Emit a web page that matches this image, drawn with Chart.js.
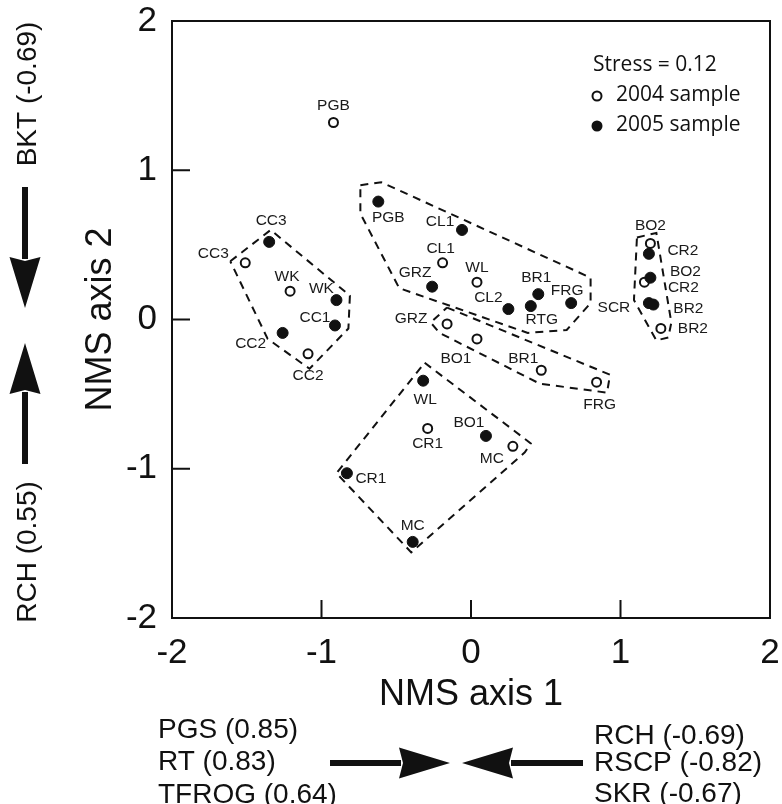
<!DOCTYPE html>
<html>
<head>
<meta charset="utf-8">
<script src="https://cdn.jsdelivr.net/npm/chart.js@4.4.1/dist/chart.umd.min.js"></script>
<style>
  html, body { margin: 0; padding: 0; background: #fff; }
  #wrap { width: 782px; height: 804px; }
</style>
</head>
<body>
<div id="wrap"><canvas id="nms-chart" width="782" height="804"></canvas></div>
<script>
// site scores on NMS axis 1 / axis 2
const sites2005 = ['PGB', 'CC3', 'WK', 'CC1', 'CC2', 'CL1', 'GRZ', 'BR1', 'CL2', 'RTG', 'FRG', 'SCR', 'BO2', 'CR2', 'BR2', 'WL', 'BO1', 'CR1', 'MC'];
const axis1_2005 = [-0.62, -1.35, -0.90, -0.91, -1.26, -0.06, -0.26, 0.45, 0.25, 0.40, 0.67, 1.19, 1.20, 1.19, 1.22, -0.32, 0.10, -0.83, -0.39];
const axis2_2005 = [0.79, 0.52, 0.13, -0.04, -0.09, 0.60, 0.22, 0.17, 0.07, 0.09, 0.11, 0.11, 0.28, 0.44, 0.10, -0.41, -0.78, -1.03, -1.49];

const sites2004 = ['PGB', 'CC3', 'WK', 'CC2', 'CL1', 'WL', 'GRZ', 'BO1', 'BR1', 'FRG', 'CR1', 'MC', 'BO2', 'CR2', 'BR2'];
const axis1_2004 = [-0.92, -1.51, -1.21, -1.09, -0.19, 0.04, -0.16, 0.04, 0.47, 0.84, -0.29, 0.28, 1.20, 1.16, 1.27];
const axis2_2004 = [1.32, 0.38, 0.19, -0.23, 0.38, 0.25, -0.03, -0.13, -0.34, -0.42, -0.73, -0.85, 0.51, 0.25, -0.06];

// dashed group outlines (vertices in axis units)
const hullCCx = [-1.61, -1.34, -0.81, -0.82, -1.08, -1.36];
const hullCCy = [0.39, 0.60, 0.16, -0.06, -0.33, -0.13];
const hullUpperX = [-0.74, -0.60, 0.80, 0.80, 0.64, 0.38, -0.48, -0.74];
const hullUpperY = [0.90, 0.92, 0.28, 0.11, -0.07, -0.09, 0.21, 0.71];
const hullMidX = [-0.16, 0.93, 0.91, 0.46, -0.21, -0.27];
const hullMidY = [0.08, -0.37, -0.49, -0.43, -0.09, -0.02];
const hullRightX = [1.11, 1.24, 1.34, 1.32, 1.24, 1.09];
const hullRightY = [0.55, 0.58, -0.02, -0.12, -0.14, 0.13];
const hullLowX = [-0.31, 0.40, 0.36, -0.40, -0.90];
const hullLowY = [-0.29, -0.83, -0.89, -1.56, -1.03];

const axisTicks = [-2, -1, 0, 1, 2];

// label placement, pixels from the marker (label centre)
const shift2005 = [[10, 16], [2, -21], [-15, -11], [-20, -8], [-32, 11], [-22, -8], [-17, -14], [-2, -16], [-20, -11], [11, 14],
  [-4, -12], [-35, 5], [35, -6], [34, -3], [35, 4], [2, 19], [-17, -13], [24, 5], [0, -16]];
const shift2004 = [[0, -17], [-32, -9], [-3, -14], [0, 22], [-2, -14], [0, -14], [-36, -5], [-21, 20], [-18, -12], [3, 23],
  [0, 15], [-21, 12], [0, -18], [39, 6], [32, 0]];

const FONT = '"Liberation Sans", Arial, Helvetica, sans-serif';

function toPoints(xs, ys) {
  return xs.map((x, i) => ({ x, y: ys[i] }));
}

function ring(xs, ys) {
  const pts = toPoints(xs, ys);
  pts.push(pts[0]);
  return pts;
}

function hullDataset(xs, ys) {
  return {
    data: ring(xs, ys),
    showLine: true,
    borderColor: '#111',
    borderWidth: 2,
    borderDash: [8, 6],
    pointRadius: 0,
    fill: false,
    tension: 0
  };
}

function noScalePadding(s) {
  s.paddingTop = 0;
  s.paddingBottom = 0;
  s.paddingLeft = 0;
  s.paddingRight = 0;
}

function drawArrow(ctx, x1, y1, x2, y2) {
  // tail (x1,y1) -> tip (x2,y2)
  const len = Math.hypot(x2 - x1, y2 - y1);
  const ux = (x2 - x1) / len, uy = (y2 - y1) / len;
  const head = 51, half = 15.5;
  const bx = x2 - ux * head, by = y2 - uy * head;
  ctx.lineWidth = 6;
  ctx.beginPath();
  ctx.moveTo(x1, y1);
  ctx.lineTo(bx + ux * 2, by + uy * 2);
  ctx.stroke();
  ctx.beginPath();
  ctx.moveTo(x2, y2);
  ctx.lineTo(bx - uy * half, by + ux * half);
  ctx.lineTo(bx + ux * 4, by + uy * 4);
  ctx.lineTo(bx + uy * half, by - ux * half);
  ctx.closePath();
  ctx.fill();
}

const frameAndTicks = {
  id: 'frameAndTicks',
  beforeDatasetsDraw(chart) {
    const { ctx, chartArea: a, scales } = chart;
    ctx.save();
    ctx.strokeStyle = '#111';
    ctx.lineWidth = 2;
    ctx.strokeRect(a.left, a.top, a.right - a.left, a.bottom - a.top);
    ctx.beginPath();
    axisTicks.slice(1, -1).forEach(v => {
      const px = scales.x.getPixelForValue(v);
      ctx.moveTo(px, a.bottom);
      ctx.lineTo(px, a.bottom - 18);
      const py = scales.y.getPixelForValue(v);
      ctx.moveTo(a.left, py);
      ctx.lineTo(a.left + 18, py);
    });
    ctx.stroke();
    ctx.restore();
  }
};

const pointLabels = {
  id: 'pointLabels',
  afterDatasetsDraw(chart) {
    const ctx = chart.ctx;
    ctx.save();
    ctx.font = '15.5px ' + FONT;
    ctx.fillStyle = '#1a1a1a';
    ctx.textAlign = 'center';
    ctx.textBaseline = 'middle';
    [[0, sites2005, shift2005], [1, sites2004, shift2004]].forEach(([idx, names, shifts]) => {
      chart.getDatasetMeta(idx).data.forEach((pt, k) => {
        ctx.fillText(names[k], pt.x + shifts[k][0], pt.y + shifts[k][1]);
      });
    });
    ctx.restore();
  }
};

const legendBox = {
  id: 'legendBox',
  afterDraw(chart) {
    const ctx = chart.ctx;
    ctx.save();
    ctx.font = '21px "Open Sans", sans-serif';
    ctx.fillStyle = '#111';
    ctx.textAlign = 'left';
    ctx.textBaseline = 'middle';
    ctx.fillText('Stress = 0.12', 593, 65);
    ctx.fillText('2004 sample', 616, 95);
    ctx.fillText('2005 sample', 616, 125);
    ctx.lineWidth = 2;
    ctx.strokeStyle = '#111';
    ctx.fillStyle = '#fff';
    ctx.beginPath();
    ctx.arc(597, 96, 4.5, 0, Math.PI * 2);
    ctx.fill();
    ctx.stroke();
    ctx.fillStyle = '#111';
    ctx.beginPath();
    ctx.arc(597, 126, 5.5, 0, Math.PI * 2);
    ctx.fill();
    ctx.restore();
  }
};

// correlated variables drawn beside the axes
const loadings = {
  id: 'loadings',
  afterDraw(chart) {
    const ctx = chart.ctx;
    ctx.save();
    ctx.fillStyle = '#111';
    ctx.strokeStyle = '#111';
    ctx.font = '28px ' + FONT;

    // axis 2
    ctx.textAlign = 'center';
    ctx.textBaseline = 'alphabetic';
    ctx.save();
    ctx.translate(36, 94);
    ctx.rotate(-Math.PI / 2);
    ctx.fillText('BKT (-0.69)', 0, 0);
    ctx.restore();
    ctx.save();
    ctx.translate(36, 552);
    ctx.rotate(-Math.PI / 2);
    ctx.fillText('RCH (0.55)', 0, 0);
    ctx.restore();
    drawArrow(ctx, 25, 187, 25, 308);
    drawArrow(ctx, 25, 464, 25, 343);

    // axis 1
    ctx.textAlign = 'left';
    ctx.textBaseline = 'middle';
    ['PGS (0.85)', 'RT (0.83)', 'TFROG (0.64)'].forEach((t, i) => ctx.fillText(t, 158, 730 + i * 32.5));
    ctx.fillText('RCH (-0.69)', 594, 736);
    ctx.fillText('RSCP (-0.82)', 594, 763);
    ctx.fillText('SKR (-0.67)', 594, 794);
    drawArrow(ctx, 330, 763, 450, 763);
    drawArrow(ctx, 583, 763, 462, 763);
    ctx.restore();
  }
};

function main() {
  Chart.defaults.font.family = FONT;
  Chart.defaults.color = '#111';

  const canvas = document.getElementById('nms-chart');
  window.nmsChart = new Chart(canvas, {
    type: 'scatter',
    data: {
      datasets: [
        {
          label: '2005 sample',
          data: toPoints(axis1_2005, axis2_2005),
          pointRadius: 5.5,
          pointBackgroundColor: '#111',
          pointBorderColor: '#111',
          pointBorderWidth: 1
        },
        {
          label: '2004 sample',
          data: toPoints(axis1_2004, axis2_2004),
          pointRadius: 4.5,
          pointBackgroundColor: '#fff',
          pointBorderColor: '#111',
          pointBorderWidth: 2
        },
        hullDataset(hullCCx, hullCCy),
        hullDataset(hullUpperX, hullUpperY),
        hullDataset(hullMidX, hullMidY),
        hullDataset(hullRightX, hullRightY),
        hullDataset(hullLowX, hullLowY)
      ]
    },
    options: {
      responsive: false,
      devicePixelRatio: 1,
      animation: false,
      layout: { padding: { left: 0, right: 12, top: 21, bottom: 0 } },
      plugins: {
        legend: { display: false },
        tooltip: { enabled: false }
      },
      scales: {
        x: {
          type: 'linear',
          min: -2,
          max: 2,
          afterBuildTicks: s => { s.ticks = axisTicks.map(v => ({ value: v })); },
          ticks: { font: { size: 35 }, color: '#111', padding: 14, maxRotation: 0, callback: v => String(v) },
          grid: { display: false, drawTicks: false },
          border: { display: false },
          title: { display: true, text: 'NMS axis 1', font: { size: 36 }, color: '#111', padding: { top: 0, bottom: 87 } },
          afterFit: s => { s.height = 186; noScalePadding(s); }
        },
        y: {
          type: 'linear',
          min: -2,
          max: 2,
          afterBuildTicks: s => { s.ticks = axisTicks.map(v => ({ value: v })); },
          ticks: { font: { size: 35 }, color: '#111', padding: 15, callback: v => String(v) },
          grid: { display: false, drawTicks: false },
          border: { display: false },
          title: { display: true, text: 'NMS axis 2', font: { size: 36 }, color: '#111', padding: { top: 79, bottom: 0 } },
          afterFit: s => { s.width = 172; noScalePadding(s); }
        }
      }
    },
    plugins: [frameAndTicks, pointLabels, legendBox, loadings]
  });
}

main();
</script>
</body>
</html>
